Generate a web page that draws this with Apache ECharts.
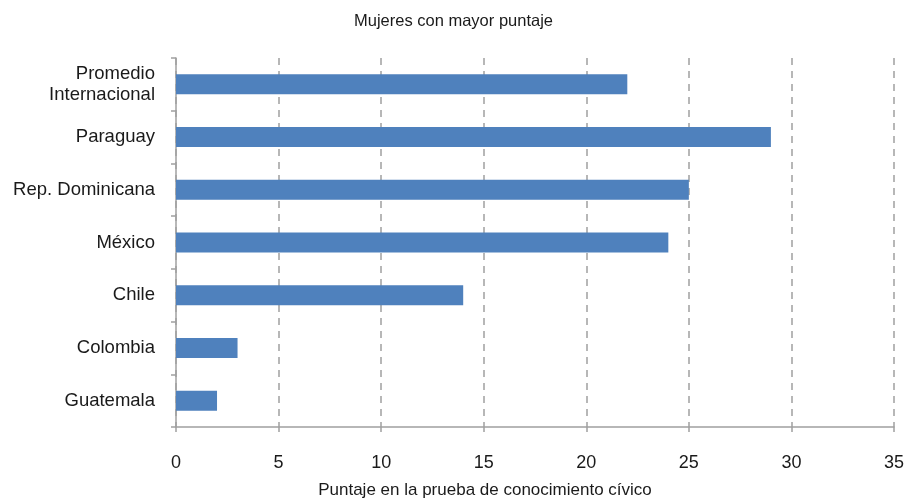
<!DOCTYPE html>
<html>
<head>
<meta charset="utf-8">
<script src="https://cdn.jsdelivr.net/npm/echarts@6/dist/echarts.min.js"></script>
<style>
html,body{margin:0;padding:0;background:#fff;}
#chart{width:907px;height:504px;}
</style>
</head>
<body>
<div id="chart"></div>
<script>
const titleText = 'Mujeres con mayor puntaje';
const xAxisName = 'Puntaje en la prueba de conocimiento cívico';
const categories = ['Promedio\nInternacional', 'Paraguay', 'Rep. Dominicana', 'México', 'Chile', 'Colombia', 'Guatemala'];
const values = [22, 29, 25, 24, 14, 3, 2];
const xTicks = [0, 5, 10, 15, 20, 25, 30, 35];

const chart = echarts.init(document.getElementById('chart'));
chart.setOption({
  animation: false,
  backgroundColor: '#fff',
  textStyle: { fontFamily: 'Liberation Sans, Arial, sans-serif' },
  title: {
    text: titleText,
    left: 'center',
    top: 8,
    textStyle: { fontSize: 16.5, fontWeight: 'normal', color: '#1a1a1a', fontFamily: 'Liberation Sans, Arial, sans-serif' }
  },
  grid: { left: 176, right: 12, top: 58, bottom: 76 },
  xAxis: {
    type: 'value',
    min: xTicks[0],
    max: xTicks[xTicks.length - 1],
    interval: 5,
    name: xAxisName,
    nameLocation: 'middle',
    nameGap: 55,
    nameTextStyle: { fontSize: 17, color: '#1a1a1a', padding: [0, 100, 0, 0] },
    axisLine: { show: true, lineStyle: { color: '#a0a0a0', width: 1.5 } },
    axisTick: { show: true, length: 5, lineStyle: { color: '#a0a0a0', width: 1.5 } },
    axisLabel: { fontSize: 18, color: '#1a1a1a', margin: 27 },
    splitLine: { show: true, lineStyle: { type: [7, 6], color: '#a0a0a0', width: 1.5 } }
  },
  yAxis: {
    type: 'category',
    data: categories,
    inverse: true,
    axisLine: { show: true, lineStyle: { color: '#a0a0a0', width: 1.5 } },
    axisTick: { show: true, length: 5, lineStyle: { color: '#a0a0a0', width: 1.5 } },
    axisLabel: { fontSize: 18.5, color: '#1a1a1a', margin: 21, lineHeight: 21, align: 'right' },
    splitLine: { show: false }
  },
  series: [{
    type: 'bar',
    data: values,
    barWidth: 20,
    itemStyle: { color: '#4f81bd' }
  }]
});
</script>
</body>
</html>
